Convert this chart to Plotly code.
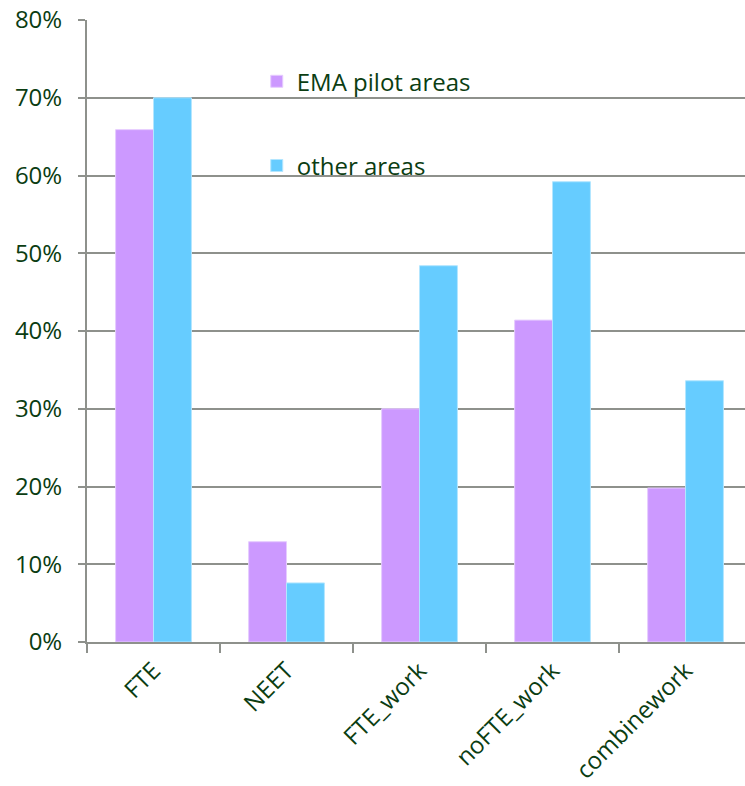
import plotly.graph_objects as go

categories = ["FTE", "NEET", "FTE_work", "noFTE_work", "combinework"]
ema_pilot = [65.9, 12.9, 30.0, 41.4, 19.8]
other_areas = [70.0, 7.6, 48.4, 59.2, 33.6]
y_ticks = [0, 10, 20, 30, 40, 50, 60, 70, 80]
y_tick_labels = [f"{v}%" for v in y_ticks]

txt = "#0b3d12"
grid = "#8e918c"

fig = go.Figure()
fig.add_trace(go.Bar(x=categories, y=ema_pilot, name="EMA pilot areas",
                     marker=dict(color="#cc99ff", line=dict(color="#e6ccff", width=1)),
                     legendgroup="a"))
fig.add_trace(go.Bar(x=categories, y=other_areas, name="other areas",
                     marker=dict(color="#66ccff", line=dict(color="#b3e6ff", width=1)),
                     legendgroup="b"))

fig.update_layout(
    width=745, height=786,
    margin=dict(l=87, r=0, t=20, b=144),
    paper_bgcolor="white", plot_bgcolor="white",
    font=dict(family="Open Sans", color=txt, size=24),
    barmode="group", bargap=0.43, bargroupgap=0,
    showlegend=True,
    legend=dict(x=0.258, y=0.937, xanchor="left", yanchor="top",
                traceorder="grouped", tracegroupgap=50,
                font=dict(size=24, color=txt), bgcolor="rgba(0,0,0,0)",
                itemwidth=30),
    xaxis=dict(range=[-0.5, 4.447], tickangle=-45, ticks="outside", tickson="boundaries",
               ticklen=9, tickwidth=2, tickcolor=grid, showline=True, linecolor=grid,
               linewidth=2, showgrid=False, ticklabelstandoff=3, automargin=False,
               tickfont=dict(size=24, color=txt)),
    yaxis=dict(range=[0, 80], tickvals=y_ticks, ticktext=y_tick_labels,
               ticks="outside", ticklen=7, tickwidth=2, tickcolor=grid,
               ticklabelstandoff=11, automargin=False,
               showline=True, linecolor=grid, linewidth=2,
               showgrid=True, gridcolor=grid, gridwidth=2,
               tickfont=dict(size=24, color=txt), zeroline=False),
)

fig.write_html("out.html")
